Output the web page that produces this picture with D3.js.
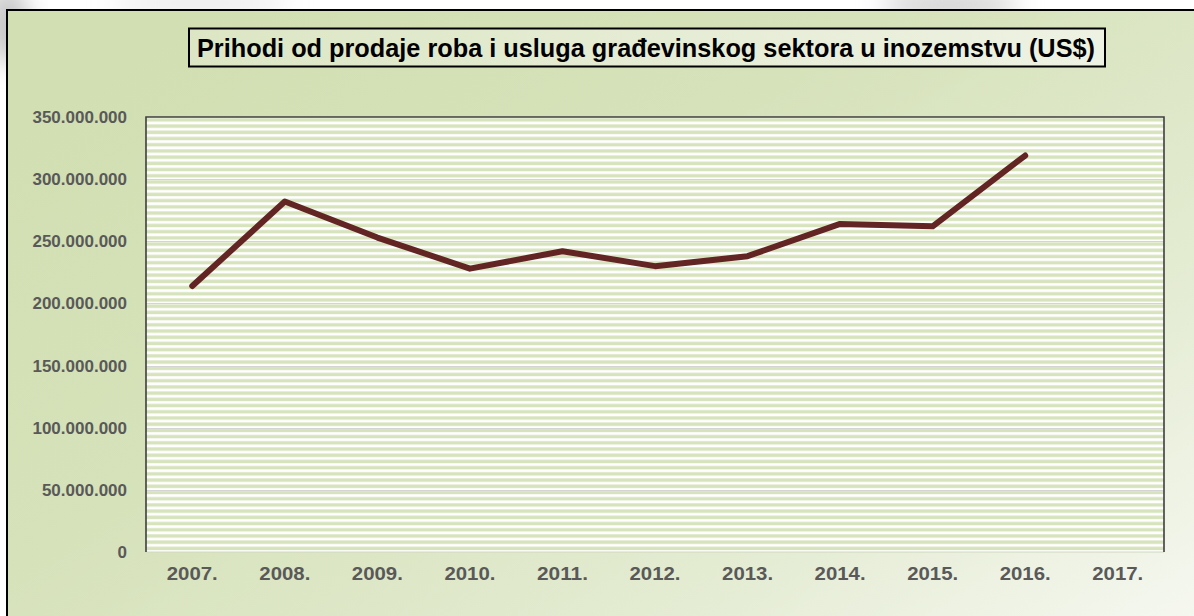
<!DOCTYPE html>
<html>
<head>
<meta charset="utf-8">
<script src="https://cdn.jsdelivr.net/npm/d3@7/dist/d3.min.js"></script>
<style>
  html, body { margin: 0; padding: 0; background: #ffffff; }
  svg { display: block; }
</style>
</head>
<body>
<svg id="chart" width="1194" height="616"></svg>
<script>
// ---- data ----
const titleText = "Prihodi od prodaje roba i usluga građevinskog sektora u inozemstvu (US$)";
const years = ["2007.", "2008.", "2009.", "2010.", "2011.", "2012.", "2013.", "2014.", "2015.", "2016.", "2017."];
const revenue = [214000000, 282000000, 253000000, 228000000, 242000000, 230000000, 238000000, 264000000, 262000000, 319000000, null];
const yTicks = [0, 50000000, 100000000, 150000000, 200000000, 250000000, 300000000, 350000000];

// ---- layout ----
const W = 1194, H = 616;
const plot = { left: 146, right: 1164, top: 117, bottom: 552 };

const svg = d3.select("#chart");
const defs = svg.append("defs");

// background gradient
const bg = defs.append("linearGradient").attr("id", "bgGrad")
  .attr("x1", "0").attr("y1", "0.2").attr("x2", "1").attr("y2", "1");
bg.append("stop").attr("offset", "0").attr("stop-color", "#d2dfb2");
bg.append("stop").attr("offset", "0.35").attr("stop-color", "#d6e2ba");
bg.append("stop").attr("offset", "0.7").attr("stop-color", "#e3ebd1");
bg.append("stop").attr("offset", "1").attr("stop-color", "#f6f8f1");

const tg = defs.append("linearGradient").attr("id", "titleGrad")
  .attr("x1", "0").attr("y1", "0").attr("x2", "1").attr("y2", "0");
tg.append("stop").attr("offset", "0").attr("stop-color", "#dce6c4");
tg.append("stop").attr("offset", "1").attr("stop-color", "#eef2e3");

// stripe pattern
const pat = defs.append("pattern").attr("id", "stripes")
  .attr("patternUnits", "userSpaceOnUse")
  .attr("x", 0).attr("y", plot.top)
  .attr("width", 20).attr("height", 6.21);
pat.append("rect").attr("width", 20).attr("height", 6.21).attr("fill", "#ffffff");
pat.append("rect").attr("y", 1.2).attr("width", 20).attr("height", 3.4).attr("fill", "#d6e3bc");

const blur = defs.append("filter").attr("id", "blur").attr("x", "-50%").attr("y", "-50%").attr("width", "200%").attr("height", "200%");
blur.append("feGaussianBlur").attr("stdDeviation", 12);

// shadows outside the frame
svg.append("ellipse").attr("cx", 8).attr("cy", 25).attr("rx", 20).attr("ry", 40)
  .attr("fill", "#c4c4c4").attr("filter", "url(#blur)");
svg.append("ellipse").attr("cx", 950).attr("cy", 5).attr("rx", 70).attr("ry", 12)
  .attr("fill", "#cacaca").attr("filter", "url(#blur)");
svg.append("ellipse").attr("cx", 200).attr("cy", 3).attr("rx", 90).attr("ry", 8)
  .attr("fill", "#e2e2e2").attr("filter", "url(#blur)");

// outer chart area
svg.append("rect").attr("x", 7).attr("y", 10).attr("width", W).attr("height", H)
  .attr("fill", "url(#bgGrad)").attr("stroke", "#000").attr("stroke-width", 2);

// scales
const x = d3.scaleBand().domain(years).range([plot.left, plot.right]).paddingInner(0).paddingOuter(0);
const y = d3.scaleLinear().domain([0, 350000000]).range([plot.bottom, plot.top]);

// plot area stripes
svg.append("rect").attr("x", plot.left).attr("y", plot.top)
  .attr("width", plot.right - plot.left).attr("height", plot.bottom - plot.top)
  .attr("fill", "url(#stripes)");

// gridlines
svg.append("g").selectAll("line").data(yTicks.filter(d => d > 0 && d < 350000000)).join("line")
  .attr("x1", plot.left).attr("x2", plot.right)
  .attr("y1", d => Math.round(y(d)) + 0.5).attr("y2", d => Math.round(y(d)) + 0.5)
  .attr("stroke", "#d4d4d4").attr("stroke-width", 1);

// bottom light line
svg.append("line").attr("x1", plot.left).attr("x2", plot.right)
  .attr("y1", plot.bottom).attr("y2", plot.bottom)
  .attr("stroke", "#cfd8bf").attr("stroke-width", 1);

// plot border (top, left, right)
svg.append("path")
  .attr("d", `M${plot.left},${plot.bottom} L${plot.left},${plot.top} L${plot.right},${plot.top} L${plot.right},${plot.bottom}`)
  .attr("fill", "none").attr("stroke", "#3f3f3f").attr("stroke-width", 1.6);

// y axis labels
const yAxis = d3.axisLeft(y).tickValues(yTicks).tickSize(0).tickPadding(0)
  .tickFormat(d => d === 0 ? "0" : d3.format(",")(d).replace(/,/g, "."));
const yg = svg.append("g").attr("transform", `translate(127,0)`).call(yAxis);
yg.select(".domain").remove();
yg.selectAll("text")
  .attr("font-family", "'Liberation Sans', Arial, sans-serif")
  .attr("font-weight", "bold").attr("font-size", "17px").attr("fill", "#595959");

// x axis labels
const xAxis = d3.axisBottom(x).tickSize(0).tickPadding(0);
const xg = svg.append("g").attr("transform", `translate(0,${plot.bottom})`).call(xAxis);
xg.select(".domain").remove();
xg.selectAll("text")
  .attr("y", 28).attr("dy", 0)
  .attr("font-family", "'Liberation Sans', Arial, sans-serif")
  .attr("font-weight", "bold").attr("font-size", "17.5px").attr("fill", "#595959")
  .attr("textLength", 51).attr("lengthAdjust", "spacingAndGlyphs");

// line
const pts = years.map((yr, i) => ({ yr, v: revenue[i] })).filter(d => d.v != null);
const line = d3.line().x(d => x(d.yr) + x.bandwidth() / 2).y(d => y(d.v));
svg.append("path").datum(pts)
  .attr("d", line).attr("fill", "none")
  .attr("stroke", "#632523").attr("stroke-width", 6)
  .attr("stroke-linecap", "round").attr("stroke-linejoin", "round");

// title
svg.append("rect").attr("x", 189).attr("y", 28.5).attr("width", 916).attr("height", 38)
  .attr("fill", "url(#titleGrad)").attr("stroke", "#000").attr("stroke-width", 2);
svg.append("text").attr("x", 197).attr("y", 57)
  .attr("font-family", "'Liberation Sans', Arial, sans-serif")
  .attr("font-weight", "bold").attr("font-size", "26px").attr("fill", "#000")
  .attr("textLength", 898).attr("lengthAdjust", "spacingAndGlyphs")
  .text(titleText);
</script>
</body>
</html>
